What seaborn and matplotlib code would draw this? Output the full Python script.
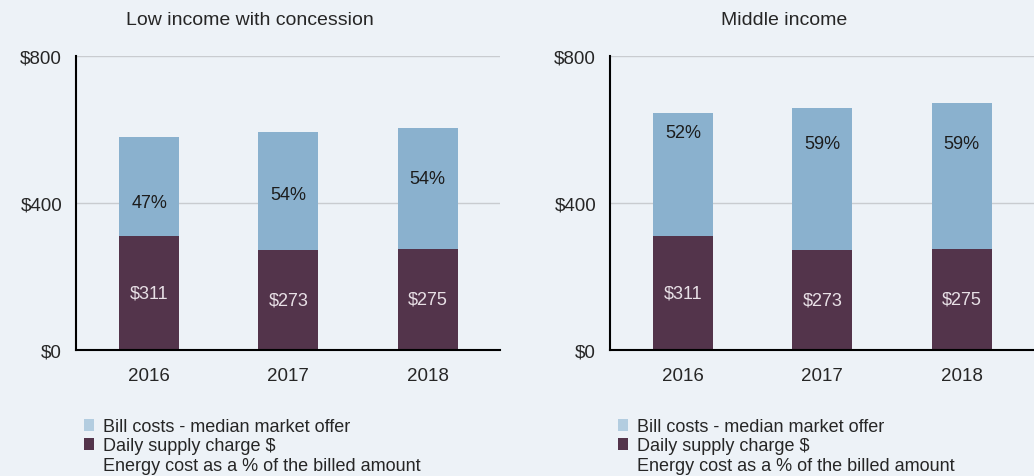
import pandas as pd
import matplotlib.pyplot as plt
import seaborn as sns
from matplotlib.patches import Patch

years = ["2016", "2017", "2018"]
panel_titles = ["Low income with concession", "Middle income"]

# total bill (top of stack) and daily supply charge (bottom of stack)
totals_low = [580, 593, 604]
totals_mid = [645, 659, 672]
supply_low = [311, 273, 275]
supply_mid = [311, 273, 275]
pct_low = ["47%", "54%", "54%"]
pct_mid = ["52%", "59%", "59%"]

# where the % labels sit (data units)
pct_y_low = [400, 422, 468]
pct_y_mid = [593, 561, 561]

BG = "#edf2f7"
BLUE = "#8ab1ce"
BLUE_LEGEND = "#b3cde0"
MAROON = "#53344b"
TEXT = "#262626"

sns.set_theme(style="white")
plt.rcParams["font.family"] = ["Liberation Sans", "DejaVu Sans"]

fig = plt.figure(figsize=(10.34, 4.77), dpi=100, facecolor=BG)
axes = [fig.add_axes([76 / 1034, 126 / 477, 424 / 1034, 294 / 477]),
        fig.add_axes([610 / 1034, 126 / 477, 424 / 1034, 294 / 477])]

panels = [(totals_low, supply_low, pct_low, pct_y_low),
          (totals_mid, supply_mid, pct_mid, pct_y_mid)]

for ax, title, (tot, sup, pct, pct_y) in zip(axes, panel_titles, panels):
    df = pd.DataFrame({"year": years, "total": tot, "supply": sup})
    ax.set_facecolor(BG)
    ax.set_axisbelow(True)
    ax.yaxis.grid(True, color="#c9ccd0", linewidth=1)

    sns.barplot(data=df, x="year", y="total", color=BLUE, width=0.43,
                saturation=1, linewidth=0, ax=ax)
    sns.barplot(data=df, x="year", y="supply", color=MAROON, width=0.43,
                saturation=1, linewidth=0, ax=ax)

    for i in range(len(years)):
        ax.text(i, sup[i] / 2, f"${sup[i]}", ha="center", va="center",
                color="#e8e0e6", fontsize=13)
        ax.text(i, pct_y[i], pct[i], ha="center", va="center",
                color="#1c1c1c", fontsize=13)

    ax.set_ylim(0, 800)
    ax.set_xlim(-0.525, 2.52)
    ax.set_yticks([0, 400, 800])
    ax.set_yticklabels(["$0", "$400", "$800"])
    ax.set_xlabel("")
    ax.set_ylabel("")
    ax.tick_params(axis="both", length=0, labelsize=13.5, colors=TEXT)
    ax.tick_params(axis="y", pad=10)
    ax.tick_params(axis="x", pad=12)
    for side in ["top", "right"]:
        ax.spines[side].set_visible(False)
    for side in ["left", "bottom"]:
        ax.spines[side].set_color("black")
        ax.spines[side].set_linewidth(1.5)

    ax.text(0.41, 1.123, title, transform=ax.transAxes, ha="center",
            va="center", fontsize=14, color=TEXT)

    handles = [Patch(facecolor=BLUE_LEGEND, edgecolor="none"),
               Patch(facecolor=MAROON, edgecolor="none"),
               Patch(facecolor="none", edgecolor="none")]
    labels = ["Bill costs - median market offer", "Daily supply charge $",
              "Energy cost as a % of the billed amount"]
    ax.legend(handles, labels, loc="upper left", bbox_to_anchor=(0.018, -0.232),
              frameon=False, fontsize=13, handlelength=0.6, handleheight=0.6,
              handletextpad=0.45, labelspacing=0.12, borderpad=0, borderaxespad=0,
              labelcolor=TEXT)

fig.savefig("out.png", dpi=100, facecolor=BG)
